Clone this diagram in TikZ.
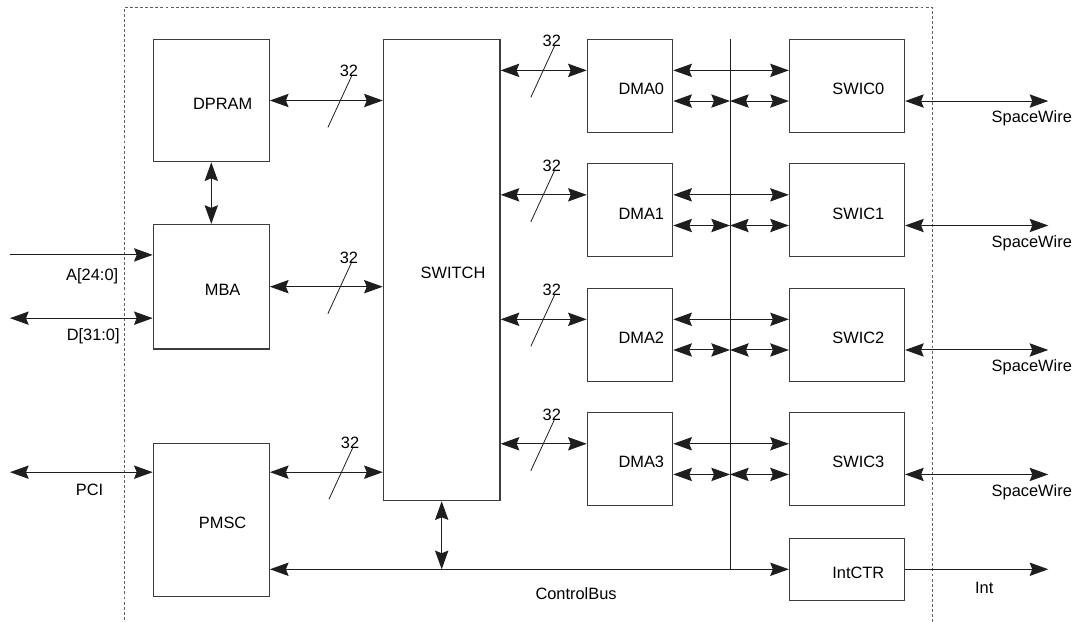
\documentclass[tikz,border=0pt]{standalone}
\usepackage{fontspec}
\setmainfont{Liberation Sans}
\usepackage{tikz}
\usetikzlibrary{arrows.meta, positioning}
\definecolor{boxline}{RGB}{60, 60, 60}
\definecolor{wirecol}{RGB}{30, 30, 30}
\definecolor{edgecol}{RGB}{95, 95, 95}
\tikzstyle{block} = [rectangle, draw=boxline, line width=0.9pt, inner sep=0pt, text height=13.3pt, text depth=0pt, font=\fontsize{12.3}{14}\selectfont, execute at begin node={\hspace*{17pt}}]
\tikzstyle{dma} = [block, minimum width=64pt, minimum height=69.75pt]
\tikzstyle{swic} = [block, minimum width=86.25pt, minimum height=69.75pt]
\tikzstyle{sig} = [inner sep=0pt, text height=8.8pt, text depth=0pt, font=\fontsize{12.3}{14}\selectfont]
\tikzset{>={Stealth[length=14pt, width=10pt, inset=2pt]}}
\tikzstyle{arrow} = [line width=0.75pt, draw=wirecol, ->]
\tikzstyle{biarrow} = [line width=0.75pt, draw=wirecol, <->]
\tikzstyle{slash} = [line width=0.6pt, draw=wirecol]
\tikzstyle{chipedge} = [line width=0.75pt, draw=edgecol, dash pattern=on 2.2pt off 1.6pt]

\begin{document}
\begin{tikzpicture}[x=0.75pt, y=-0.75pt]
    \useasboundingbox (0,0) rectangle (1076,622);

    % Nodes
    \node (dpram) [block, minimum width=87pt, minimum height=91.8pt] at (211.3,100.5) {DPRAM};
    \node (mba) [block, minimum width=87pt, minimum height=93.3pt, below=46.2pt of dpram] {MBA};
    \node (pmsc) [block, minimum width=87pt, minimum height=115pt, below=69.8pt of mba] {PMSC};
    \node (switch) [block, minimum width=87.5pt, minimum height=346pt] at (441.7,270) {SWITCH};
    \node (dma0) [dma] at (630,85.7) {DMA0};
    \node (dma1) [dma, below=22.7pt of dma0] {DMA1};
    \node (dma2) [dma, below=22.7pt of dma1] {DMA2};
    \node (dma3) [dma, below=22.7pt of dma2] {DMA3};
    \node (swic0) [swic, right=86.7pt of dma0] {SWIC0};
    \node (swic1) [swic, right=86.7pt of dma1] {SWIC1};
    \node (swic2) [swic, right=86.7pt of dma2] {SWIC2};
    \node (swic3) [swic, right=86.7pt of dma3] {SWIC3};
    \node (intctr) [swic, minimum height=46.3pt, below=23.7pt of swic3] {IntCTR};

    % Outer edge and free ends
    \draw [chipedge] (124,640) |- (932.3,7.7) -- (932.3,640);
    \coordinate (ledge) at (10,0);
    \coordinate (redge) at (1048.3,0);
    \coordinate (bustop) at (730,39.3);
    \coordinate (busbot) at (bustop |- intctr.west);
    \coordinate (ain) at ([yshift=-23.25pt]mba.north west);
    \coordinate (din) at ([yshift=23.5pt]mba.south west);
    \coordinate (pin) at ([yshift=-22.2pt]pmsc.north west);
    \coordinate (pout) at ([yshift=-22.2pt]pmsc.north east);

    % Left side
    \draw [arrow] (ain -| ledge) -- node[sig, pos=0.576, yshift=-14.6pt] {A[24:0]} (ain);
    \draw [biarrow] (din -| ledge) -- node[sig, pos=0.583, yshift=-12.6pt] {D[31:0]} (din);
    \draw [biarrow] (pin -| ledge) -- node[sig, pos=0.557, yshift=-13.3pt] {PCI} (pin);
    \draw [biarrow] (dpram.south) -- (mba.north);
    \draw [biarrow] (dpram.east) -- coordinate[pos=0.62] (wa) (dpram.east -| switch.west);
    \draw [biarrow] (mba.east) -- coordinate[pos=0.62] (wb) (mba.east -| switch.west);
    \draw [biarrow] (pout) -- coordinate[pos=0.63] (wc) (pout -| switch.west);
    \foreach \w in {wa,wb,wc} {
        \draw [slash] (\w) ++(-12,27) -- ++(24,-52);
        \node (n\w) [sig] at ([xshift=6.75pt, yshift=22.1pt]\w) {32};
    }

    % DMA and SWIC rows
    \draw [wirecol, line width=0.75pt] (bustop) -- (busbot);
    \foreach \i in {0,...,3} {
        \coordinate (up\i) at ([yshift=11.5pt]dma\i.west);
        \coordinate (lo\i) at ([yshift=-11.5pt]dma\i.east);
        \draw [biarrow] (switch.east |- up\i) -- coordinate[pos=0.49] (w\i) (up\i);
        \draw [slash] (w\i) ++(-12,27) -- ++(24,-52);
        \node (n\i) [sig] at ([xshift=6.75pt, yshift=22.1pt]w\i) {32};
        \draw [biarrow] (dma\i.east |- up\i) -- (swic\i.west |- up\i);
        \draw [biarrow] (lo\i) -- (lo\i -| bustop);
        \draw [biarrow] (lo\i -| bustop) -- (swic\i.west |- lo\i);
        \draw [biarrow] (swic\i.east |- lo\i) -- node[sig, pos=0.885, yshift=-12pt] {SpaceWire} (lo\i -| redge);
    }

    % Control bus
    \draw [biarrow] (intctr.west -| pmsc.east) -- node[sig, pos=0.59, yshift=-18.4pt] {ControlBus} (intctr.west);
    \draw [biarrow] (switch.south) -- (switch.south |- busbot);
    \draw [arrow] (intctr.east) -- node[sig, pos=0.553, yshift=-13.7pt] {Int} (intctr.east -| redge);
\end{tikzpicture}
\end{document}
